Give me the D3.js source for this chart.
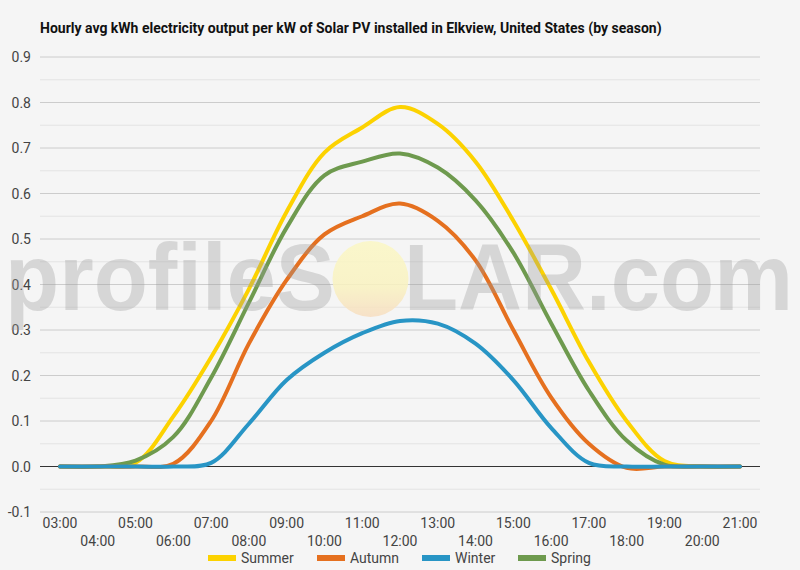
<!DOCTYPE html>
<html><head><meta charset="utf-8">
<script src="https://cdn.jsdelivr.net/npm/d3@7"></script>
<style>
body{margin:0;background:#f5f5f5;}
svg{display:block;font-family:Roboto,"Noto Sans",sans-serif;}
</style></head>
<body><svg id="c" width="800" height="570"></svg>
<script>
const hours = ["03:00","04:00","05:00","06:00","07:00","08:00","09:00","10:00","11:00","12:00","13:00","14:00","15:00","16:00","17:00","18:00","19:00","20:00","21:00"];
const summer = [0,0,0.008,0.11,0.24,0.39,0.56,0.69,0.745,0.79,0.753,0.67,0.54,0.39,0.23,0.10,0.012,0,0];
const autumn = [0,0,0,0.006,0.10,0.27,0.41,0.51,0.55,0.578,0.54,0.453,0.30,0.152,0.05,-0.003,0,0,0];
const winter = [0,0,0,0,0.008,0.094,0.19,0.25,0.293,0.32,0.314,0.27,0.19,0.085,0.008,0,0,0,0];
const spring = [0,0,0.013,0.065,0.195,0.36,0.525,0.64,0.67,0.688,0.657,0.585,0.47,0.315,0.167,0.057,0.004,0,0];
const seriesNames = ["Summer","Autumn","Winter","Spring"];
const seriesColors = ["#fcd200","#e5701f","#2895c5","#6e9a4e"];
const yTicks = [-0.1,0,0.1,0.2,0.3,0.4,0.5,0.6,0.7,0.8,0.9];
const title = "Hourly avg kWh electricity output per kW of Solar PV installed in Elkview, United States (by season)";

const svg = d3.select("#c");
svg.append("rect").attr("width",800).attr("height",570).attr("fill","#f5f5f5");
const L=40,R=760,T=57,B=512;
const x = d3.scalePoint().domain(hours).range([60,740]);
const y = d3.scaleLinear().domain([-0.1,0.9]).range([B,T]);

svg.append("text").attr("x",40).attr("y",33).attr("font-size",14).attr("font-weight","bold").attr("fill","#111").text(title);

// minor grid
const minor = d3.range(-0.05,0.9,0.1);
svg.append("g").selectAll("line").data(minor).join("line")
  .attr("x1",L).attr("x2",R).attr("y1",d=>y(d)).attr("y2",d=>y(d))
  .attr("stroke","#e3e3e3").attr("stroke-width",1);
// major grid
svg.append("g").selectAll("line").data(yTicks.filter(d=>d!==0)).join("line")
  .attr("x1",L).attr("x2",R).attr("y1",d=>y(d)).attr("y2",d=>y(d))
  .attr("stroke","#cccccc").attr("stroke-width",1);
svg.append("line").attr("x1",L).attr("x2",R).attr("y1",y(0)).attr("y2",y(0)).attr("stroke","#333").attr("stroke-width",1);

// y labels
svg.append("g").selectAll("text").data(yTicks).join("text")
  .attr("x",31).attr("y",d=>y(d)+5).attr("text-anchor","end")
  .attr("font-size",14).attr("fill","#444").text(d=>d.toFixed(1));

// x labels
svg.append("g").selectAll("text").data(hours).join("text")
  .attr("x",d=>x(d)).attr("y",(d,i)=> i%2===0 ? 528 : 546).attr("text-anchor","middle")
  .attr("font-size",14).attr("fill","#444").text(d=>d);

// watermark sun
const defs = svg.append("defs");
const g = defs.append("linearGradient").attr("id","sun").attr("x1",0).attr("y1",0).attr("x2",0).attr("y2",1);
g.append("stop").attr("offset","0%").attr("stop-color","#fbf7c4");
g.append("stop").attr("offset","60%").attr("stop-color","#f9f2c0");
g.append("stop").attr("offset","100%").attr("stop-color","#f7ddc0");
svg.append("circle").attr("cx",370.5).attr("cy",279).attr("r",38).attr("fill","url(#sun)").attr("opacity",0.85);

// lines
const data = [summer,autumn,winter,spring];
const line = d3.line().x((d,i)=>x(hours[i])).y(d=>y(d)).curve(d3.curveCatmullRom.alpha(0.5));
const order = [0,3,1,2];
order.forEach(k=>{
  svg.append("path").attr("d",line(data[k])).attr("fill","none")
    .attr("stroke",seriesColors[k]).attr("stroke-width",4).attr("stroke-linejoin","round").attr("stroke-linecap","round");
});

// watermark text
const wm = svg.append("text").attr("x",5).attr("y",310).attr("font-size",95).attr("font-weight","bold")
  .attr("font-family","'Liberation Sans',Arial,sans-serif")
  .attr("textLength",788).attr("lengthAdjust","spacingAndGlyphs")
  .attr("fill","#9a9a9a").attr("opacity",0.33);
wm.append("tspan").text("profileS");
wm.append("tspan").attr("fill-opacity",0).text("O");
wm.append("tspan").text("LAR.com");

// legend
const lx = [208,317,422,518];
seriesNames.forEach((n,i)=>{
  svg.append("line").attr("x1",lx[i]).attr("x2",lx[i]+28).attr("y1",558).attr("y2",558)
    .attr("stroke",seriesColors[i]).attr("stroke-width",6);
  svg.append("text").attr("x",lx[i]+33).attr("y",563).attr("font-size",14).attr("fill","#444").text(n);
});
</script></body></html>
